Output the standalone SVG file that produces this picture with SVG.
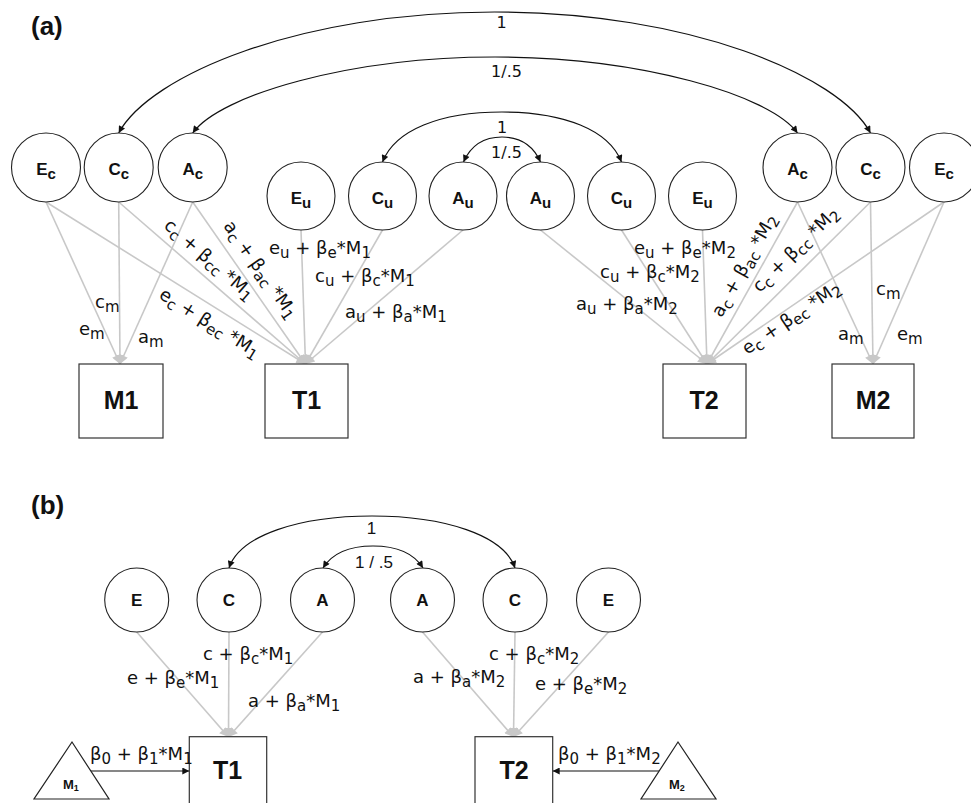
<svg xmlns="http://www.w3.org/2000/svg" width="971" height="803" viewBox="0 0 971 803">
<style>
.bg{fill:#fff}
.node circle{fill:#fff;stroke:#222;stroke-width:1.1}
.node rect{fill:#fff;stroke:#333;stroke-width:1.2}
.node polygon{fill:#fff;stroke:#222;stroke-width:1.2}
.nl{font-family:"Liberation Sans",Arial,sans-serif;font-weight:bold;font-size:17px;fill:#111;text-anchor:middle}
.nl .s{font-size:15px}
.bl{font-family:"Liberation Sans",Arial,sans-serif;font-weight:bold;font-size:25px;fill:#111;text-anchor:middle}
.tl{font-family:"Liberation Sans",Arial,sans-serif;font-weight:bold;font-size:13px;fill:#111}
.tl .s{font-size:9px}
.pl{font-family:"Liberation Sans",Arial,sans-serif;font-weight:bold;font-size:26px;fill:#111}
.lbl{font-family:"DejaVu Sans",sans-serif;font-size:18px;fill:#111;white-space:pre}
.lbl .s{font-size:15px}
.al{font-family:"DejaVu Sans",sans-serif;font-size:16px;fill:#111;text-anchor:middle}
.bal{font-family:"Liberation Sans",Arial,sans-serif;font-size:17px;fill:#111;text-anchor:middle;white-space:pre}
.g{stroke:#c8c8c8;stroke-width:1.6;fill:none;marker-end:url(#ga)}
.k{stroke:#111;stroke-width:1.2;fill:none;marker-start:url(#ka);marker-end:url(#ka)}
.kk{stroke:#111;stroke-width:1.2;fill:none;marker-end:url(#ka)}
</style>
<defs>
<marker id="ga" viewBox="0 0 10 10" refX="10" refY="5" markerWidth="12" markerHeight="9" markerUnits="userSpaceOnUse" orient="auto"><path d="M0,0 L10,5 L0,10 z" fill="#c8c8c8"/></marker>
<marker id="ka" viewBox="0 0 10 10" refX="10" refY="5" markerWidth="9" markerHeight="7" markerUnits="userSpaceOnUse" orient="auto-start-reverse"><path d="M0,0 L10,5 L0,10 z" fill="#111"/></marker>
</defs>
<rect class="bg" x="0" y="0" width="971" height="803"/>
<text class="pl" x="31" y="35">(a)</text>
<text class="pl" x="31" y="514">(b)</text>

<g id="connectors">
<line class="g" x1="46" y1="202" x2="120" y2="364"/>
<line class="g" x1="46" y1="202" x2="305.5" y2="364"/>
<line class="g" x1="118.7" y1="202" x2="120" y2="364"/>
<line class="g" x1="118.7" y1="202" x2="305.5" y2="364"/>
<line class="g" x1="192.7" y1="202" x2="120" y2="364"/>
<line class="g" x1="192.7" y1="202" x2="305.5" y2="364"/>
<line class="g" x1="301" y1="230" x2="305.5" y2="364"/>
<line class="g" x1="382.5" y1="230" x2="305.5" y2="364"/>
<line class="g" x1="463" y1="230" x2="305.5" y2="364"/>
<line class="g" x1="540.5" y1="230" x2="707" y2="364"/>
<line class="g" x1="621.5" y1="230" x2="707" y2="364"/>
<line class="g" x1="702.5" y1="230" x2="707" y2="364"/>
<line class="g" x1="797.5" y1="202" x2="707" y2="364"/>
<line class="g" x1="797.5" y1="202" x2="873" y2="364"/>
<line class="g" x1="870.5" y1="202" x2="707" y2="364"/>
<line class="g" x1="870.5" y1="202" x2="873" y2="364"/>
<line class="g" x1="944" y1="202" x2="707" y2="364"/>
<line class="g" x1="944" y1="202" x2="873" y2="364"/>
<path class="k" d="M118.7,133 C150,75 300,12 494.5,12 C689,12 839,75 870.5,133"/>
<path class="k" d="M192.7,133 C220,95 350,57 495,57 C640,57 770,95 797.5,133"/>
<path class="k" d="M382.5,162 C395,130 440,112 502,112 C564,112 609,130 621.5,162"/>
<path class="k" d="M463.5,162 C471,145 485,137 502,137 C519,137 533,145 540.5,162"/>
<line class="g" x1="136.7" y1="632" x2="228.5" y2="737"/>
<line class="g" x1="229" y1="632" x2="228.5" y2="737"/>
<line class="g" x1="322.5" y1="632" x2="228.5" y2="737"/>
<line class="g" x1="422.5" y1="632" x2="513.5" y2="737"/>
<line class="g" x1="515" y1="632" x2="513.5" y2="737"/>
<line class="g" x1="608.5" y1="632" x2="513.5" y2="737"/>
<path class="k" d="M229,568 C240,535 300,516 372,516 C444,516 504,535 515,568"/>
<path class="k" d="M323,568 C333,552 350,546 373,546 C396,546 413,552 423,568"/>
<line class="kk" x1="91" y1="771" x2="189.3" y2="771"/>
<line class="kk" x1="660" y1="771" x2="552.7" y2="771"/>
</g>

<g id="Ec1" class="node"><circle cx="46" cy="167.5" r="34.5"/><text class="nl" x="46" y="175">E<tspan class="s" dy="4">c</tspan></text></g>
<g id="Cc1" class="node"><circle cx="118.7" cy="167.5" r="34.5"/><text class="nl" x="118.7" y="175">C<tspan class="s" dy="4">c</tspan></text></g>
<g id="Ac1" class="node"><circle cx="192.7" cy="167.5" r="34.5"/><text class="nl" x="192.7" y="175">A<tspan class="s" dy="4">c</tspan></text></g>
<g id="Eu1" class="node"><circle cx="301" cy="196" r="34"/><text class="nl" x="301" y="204">E<tspan class="s" dy="4">u</tspan></text></g>
<g id="Cu1" class="node"><circle cx="382.5" cy="196" r="34"/><text class="nl" x="382.5" y="204">C<tspan class="s" dy="4">u</tspan></text></g>
<g id="Au1" class="node"><circle cx="463" cy="196" r="34"/><text class="nl" x="463" y="204">A<tspan class="s" dy="4">u</tspan></text></g>
<g id="Au2" class="node"><circle cx="540.5" cy="196" r="34"/><text class="nl" x="540.5" y="204">A<tspan class="s" dy="4">u</tspan></text></g>
<g id="Cu2" class="node"><circle cx="621.5" cy="196" r="34"/><text class="nl" x="621.5" y="204">C<tspan class="s" dy="4">u</tspan></text></g>
<g id="Eu2" class="node"><circle cx="702.5" cy="196" r="34"/><text class="nl" x="702.5" y="204">E<tspan class="s" dy="4">u</tspan></text></g>
<g id="Ac2" class="node"><circle cx="797.5" cy="167.5" r="34.5"/><text class="nl" x="797.5" y="175">A<tspan class="s" dy="4">c</tspan></text></g>
<g id="Cc2" class="node"><circle cx="870.5" cy="167.5" r="34.5"/><text class="nl" x="870.5" y="175">C<tspan class="s" dy="4">c</tspan></text></g>
<g id="Ec2" class="node"><circle cx="944" cy="167.5" r="34.5"/><text class="nl" x="944" y="175">E<tspan class="s" dy="4">c</tspan></text></g>

<g id="M1" class="node"><rect x="79" y="364" width="84" height="74"/><text class="bl" x="121" y="409">M1</text></g>
<g id="T1" class="node"><rect x="265" y="364" width="83" height="74"/><text class="bl" x="306.5" y="409">T1</text></g>
<g id="T2" class="node"><rect x="663" y="364" width="83" height="74"/><text class="bl" x="704" y="409">T2</text></g>
<g id="M2" class="node"><rect x="832" y="364" width="82" height="74"/><text class="bl" x="873" y="409">M2</text></g>

<g id="bE1" class="node"><circle cx="136.7" cy="600" r="32"/><text class="nl" x="136.7" y="606">E</text></g>
<g id="bC1" class="node"><circle cx="229" cy="600" r="32"/><text class="nl" x="229" y="606">C</text></g>
<g id="bA1" class="node"><circle cx="322.5" cy="600" r="32"/><text class="nl" x="322.5" y="606">A</text></g>
<g id="bA2" class="node"><circle cx="422.5" cy="600" r="32"/><text class="nl" x="422.5" y="606">A</text></g>
<g id="bC2" class="node"><circle cx="515" cy="600" r="32"/><text class="nl" x="515" y="606">C</text></g>
<g id="bE2" class="node"><circle cx="608.5" cy="600" r="32"/><text class="nl" x="608.5" y="606">E</text></g>
<g id="bT1" class="node"><rect x="189.3" y="736.7" width="77.4" height="80"/><text class="bl" x="227.5" y="779">T1</text></g>
<g id="bT2" class="node"><rect x="475" y="736.7" width="77.7" height="80"/><text class="bl" x="514" y="779">T2</text></g>
<g id="bM1" class="node"><polygon points="72,742 34,799 109,799"/><text class="tl" x="63" y="789">M<tspan class="s" dy="2">1</tspan></text></g>
<g id="bM2" class="node"><polygon points="678,742 641,799 716,799"/><text class="tl" x="669" y="789">M<tspan class="s" dy="2">2</tspan></text></g>

<g id="labels">
<text class="al" x="501.5" y="28">1</text>
<text class="al" x="506.5" y="77">1/.5</text>
<text class="al" x="502" y="133">1</text>
<text class="al" x="506.5" y="158">1/.5</text>
<text class="bal" x="371.5" y="534">1</text>
<text class="bal" x="374" y="568">1 / .5</text>

<text class="lbl" x="95" y="308">c<tspan class="s" dy="4">m</tspan></text>
<text class="lbl" x="79" y="335">e<tspan class="s" dy="4">m</tspan></text>
<text class="lbl" x="138" y="343">a<tspan class="s" dy="4">m</tspan></text>
<text class="lbl" x="269" y="254">e<tspan class="s" dy="4">u</tspan><tspan dy="-4"> + β</tspan><tspan class="s" dy="4">e</tspan><tspan dy="-4">*M</tspan><tspan class="s" dy="4">1</tspan></text>
<text class="lbl" x="315" y="282">c<tspan class="s" dy="4">u</tspan><tspan dy="-4"> + β</tspan><tspan class="s" dy="4">c</tspan><tspan dy="-4">*M</tspan><tspan class="s" dy="4">1</tspan></text>
<text class="lbl" x="345" y="318">a<tspan class="s" dy="4">u</tspan><tspan dy="-4"> + β</tspan><tspan class="s" dy="4">a</tspan><tspan dy="-4">*M</tspan><tspan class="s" dy="4">1</tspan></text>
<text class="lbl" transform="translate(163,227) rotate(40.9)">c<tspan class="s" dy="4">c</tspan><tspan dy="-4"> + β</tspan><tspan class="s" dy="4">cc</tspan><tspan dy="-4"> *M</tspan><tspan class="s" dy="4">1</tspan></text>
<text class="lbl" transform="translate(223,226) rotate(55)">a<tspan class="s" dy="4">c</tspan><tspan dy="-4"> + β</tspan><tspan class="s" dy="4">ac</tspan><tspan dy="-4"> *M</tspan><tspan class="s" dy="4">1</tspan></text>
<text class="lbl" transform="translate(158,297.5) rotate(31.9)">e<tspan class="s" dy="4">c</tspan><tspan dy="-4"> + β</tspan><tspan class="s" dy="4">ec</tspan><tspan dy="-4"> *M</tspan><tspan class="s" dy="4">1</tspan></text>

<text class="lbl" x="634" y="254">e<tspan class="s" dy="4">u</tspan><tspan dy="-4"> + β</tspan><tspan class="s" dy="4">e</tspan><tspan dy="-4">*M</tspan><tspan class="s" dy="4">2</tspan></text>
<text class="lbl" x="600" y="278">c<tspan class="s" dy="4">u</tspan><tspan dy="-4"> + β</tspan><tspan class="s" dy="4">c</tspan><tspan dy="-4">*M</tspan><tspan class="s" dy="4">2</tspan></text>
<text class="lbl" x="576" y="310">a<tspan class="s" dy="4">u</tspan><tspan dy="-4"> + β</tspan><tspan class="s" dy="4">a</tspan><tspan dy="-4">*M</tspan><tspan class="s" dy="4">2</tspan></text>
<text class="lbl" transform="translate(721.4,318.3) rotate(-60.8)">a<tspan class="s" dy="4">c</tspan><tspan dy="-4"> + β</tspan><tspan class="s" dy="4">ac</tspan><tspan dy="-4"> *M</tspan><tspan class="s" dy="4">2</tspan></text>
<text class="lbl" transform="translate(759.7,293.3) rotate(-44.7)">c<tspan class="s" dy="4">c</tspan><tspan dy="-4"> + β</tspan><tspan class="s" dy="4">cc</tspan><tspan dy="-4"> *M</tspan><tspan class="s" dy="4">2</tspan></text>
<text class="lbl" transform="translate(747.3,355) rotate(-34.4)">e<tspan class="s" dy="4">c</tspan><tspan dy="-4"> + β</tspan><tspan class="s" dy="4">ec</tspan><tspan dy="-4"> *M</tspan><tspan class="s" dy="4">2</tspan></text>
<text class="lbl" x="876" y="295">c<tspan class="s" dy="4">m</tspan></text>
<text class="lbl" x="838" y="340">a<tspan class="s" dy="4">m</tspan></text>
<text class="lbl" x="897" y="340">e<tspan class="s" dy="4">m</tspan></text>

<text class="lbl" x="203" y="660">c + β<tspan class="s" dy="4">c</tspan><tspan dy="-4">*M</tspan><tspan class="s" dy="4">1</tspan></text>
<text class="lbl" x="127" y="684">e + β<tspan class="s" dy="4">e</tspan><tspan dy="-4">*M</tspan><tspan class="s" dy="4">1</tspan></text>
<text class="lbl" x="248" y="707">a + β<tspan class="s" dy="4">a</tspan><tspan dy="-4">*M</tspan><tspan class="s" dy="4">1</tspan></text>
<text class="lbl" x="413" y="683">a + β<tspan class="s" dy="4">a</tspan><tspan dy="-4">*M</tspan><tspan class="s" dy="4">2</tspan></text>
<text class="lbl" x="489" y="660">c + β<tspan class="s" dy="4">c</tspan><tspan dy="-4">*M</tspan><tspan class="s" dy="4">2</tspan></text>
<text class="lbl" x="535" y="690">e + β<tspan class="s" dy="4">e</tspan><tspan dy="-4">*M</tspan><tspan class="s" dy="4">2</tspan></text>
<text class="lbl" x="90" y="760">β<tspan class="s" dy="4">0</tspan><tspan dy="-4"> + β</tspan><tspan class="s" dy="4">1</tspan><tspan dy="-4">*M</tspan><tspan class="s" dy="4">1</tspan></text>
<text class="lbl" x="558" y="760">β<tspan class="s" dy="4">0</tspan><tspan dy="-4"> + β</tspan><tspan class="s" dy="4">1</tspan><tspan dy="-4">*M</tspan><tspan class="s" dy="4">2</tspan></text>
</g>
</svg>
